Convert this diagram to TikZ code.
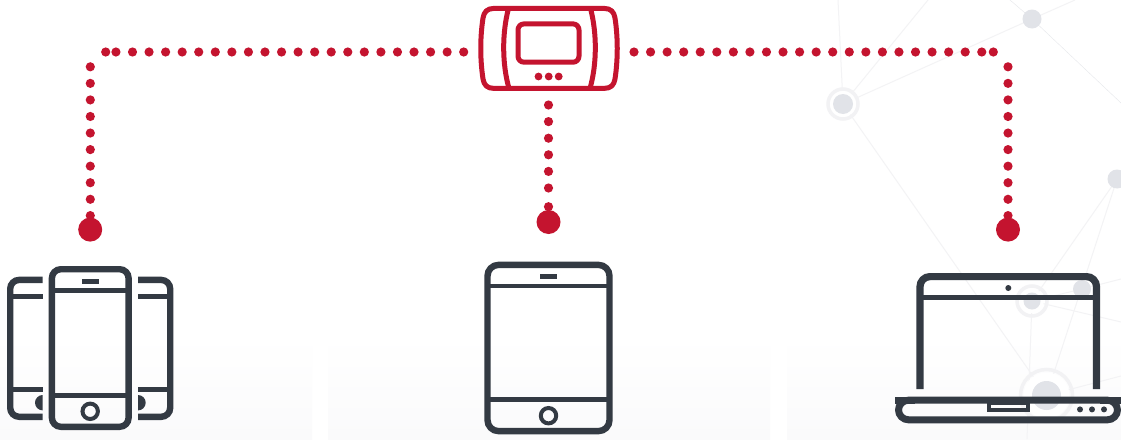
\documentclass[tikz,border=0pt]{standalone}
\definecolor{brandred}{HTML}{C4142F}
\definecolor{icondark}{HTML}{333A43}
\definecolor{netfill}{HTML}{E1E3E8}
\definecolor{netring}{HTML}{F2F2F4}
\definecolor{netline}{HTML}{F3F3F5}
\definecolor{netlinedark}{HTML}{E6E7EB}
\definecolor{floorgrey}{HTML}{FAFAFB}
\tikzset{
  dotline/.style={draw=brandred,line width=9.2pt,line cap=round,dash pattern=on 0pt off #1},
  reddot/.style={circle,fill=brandred,inner sep=0pt,minimum size=9.2pt},
  hubdot/.style={circle,fill=brandred,inner sep=0pt,minimum size=7.8pt},
  endpoint/.style={circle,fill=brandred,inner sep=0pt,minimum size=24pt},
  hubline/.style={draw=brandred,line width=5pt,line join=round},
  netnode/.style={circle,fill=netfill,inner sep=0pt,minimum size=#1},
  netcircle/.style={draw=netring,line width=3.5pt},
  netedge/.style={draw=netline,line width=1pt},
  icon/.style={draw=icondark,line width=6.4pt},
  iconthin/.style={draw=icondark,line width=4.6pt},
  iconfill/.style={fill=icondark},
  floor/.style={bottom color=floorgrey,top color=white,draw=none}
}
\begin{document}
\begin{tikzpicture}[x=1pt,y=-1pt]
\useasboundingbox (0,0) rectangle (1121,439);
\fill[white] (0,0) rectangle (1121,439);
% floor panels
\shade[floor] (0,335) rectangle (312,439);
\shade[floor] (328,335) rectangle (770,439);
\shade[floor] (787,335) rectangle (1121,439);
% network background
\coordinate (n1) at (1032,19);
\coordinate (n2) at (843,104);
\coordinate (n3) at (1117,179);
\coordinate (n4) at (1032,301);
\coordinate (n5) at (1082,289);
\coordinate (n6) at (1046.5,395.5);
\coordinate (e1) at (1010,0);
\coordinate (e2) at (1121,103);
\coordinate (e3) at (1075,0);
\coordinate (e4) at (838,0);
\coordinate (e5) at (928,0);
\coordinate (e6) at (1121,322);
\coordinate (e7) at (1121,279);
\coordinate (e8) at (1121,376);
\coordinate (e9) at (1027,439);
\draw[netlinedark] (e1) -- (n1) -- (e2);
\draw[netedge] (n1) -- (e3);
\draw[netedge] (n1) -- (n2);
\draw[netedge] (n2) -- (e4);
\draw[netedge] (n2) -- (e5);
\draw[netedge] (n2) -- (n6);
\draw[netedge] (n3) -- (n4);
\draw[netedge] (n3) -- (n6);
\draw[netedge] (n4) -- (e9);
\draw[netedge] (n4) -- (e6);
\draw[netedge] (n4) -- (n5);
\draw[netedge] (n5) -- (e7);
\draw[netedge] (n6) -- (e8);
\fill[white] (n2) circle (13);
\fill[white] (n4) circle (12);
\fill[white] (n6) circle (23);
\draw[netcircle] (n2) circle (15);
\draw[netcircle] (n4) circle (15);
\draw[netcircle] (n6) circle (26);
\node[netnode=19pt] (netA) at (n1) {};
\node[netnode=20pt] (netB) at (n2) {};
\node[netnode=19pt] (netC) at (n3) {};
\node[netnode=17pt] (netD) at (n4) {};
\node[netnode=18pt] (netE) at (n5) {};
\node[netnode=29pt] (netF) at (n6) {};
% hub device
\draw[hubline] (494,8.4) -- (604,8.4)
  .. controls (611,8.4) and (614,12) .. (615,18)
  .. controls (618,38) and (618,59) .. (615,79)
  .. controls (614,85) and (611,88.4) .. (604,88.4)
  -- (494,88.4)
  .. controls (487,88.4) and (484,85) .. (483,79)
  .. controls (480,59) and (480,38) .. (483,18)
  .. controls (484,12) and (487,8.4) .. (494,8.4) -- cycle;
\draw[hubline] (508.5,8.4) .. controls (502,33) and (502,64) .. (509,88.4);
\draw[hubline] (590.5,8.4) .. controls (597,33) and (597,64) .. (590,88.4);
\draw[hubline,rounded corners=6pt] (518,23.9) rectangle (579,62.2);
\node[hubdot] (hubA) at (538.5,76.5) {};
\node[hubdot] (hubB) at (548.7,76.5) {};
\node[hubdot] (hubC) at (558.7,76.5) {};
% connectors
\coordinate (hubW) at (463.7,52);
\coordinate (hubE) at (634,52);
\coordinate (hubS) at (548.5,105);
\coordinate (topL) at (115.9,52);
\coordinate (topR) at (982.2,52);
\coordinate (sideLa) at (90.3,66.8);
\coordinate (sideRa) at (1008,66.8);
\node[endpoint] (endL) at (90.2,229.6) {};
\node[endpoint] (endM) at (548.5,222) {};
\node[endpoint] (endR) at (1008,229.6) {};
\node[reddot] (capLa) at (105.7,52) {};
\node[reddot] (capRa) at (993.3,52) {};
\node[reddot] (capLb) at (90.3,215.6) {};
\node[reddot] (capRb) at (1008,215.6) {};
\node[reddot] (capMb) at (548.5,206.7) {};
\draw[dotline=16.56pt] (hubW) -- ([xshift=-.2pt]topL);
\draw[dotline=16.56pt] (hubE) -- ([xshift=.2pt]topR);
\draw[dotline=16.56pt] (sideLa) -- (capLb);
\draw[dotline=16.56pt] (sideRa) -- (capRb);
\draw[dotline=16.6pt] (hubS) -- (capMb);
% phones
\draw[icon,rounded corners=9pt] (51.9,269.2) rectangle (128.6,426.8);
\draw[iconthin] (51.9,290.3) -- (128.6,290.3);
\draw[iconthin] (51.9,395.7) -- (128.6,395.7);
\fill[iconfill] (82,279) rectangle (99,284);
\draw[iconthin,line width=4pt] (90.2,411.3) circle (7.7);
\draw[icon,rounded corners=9pt] (42.7,279.9) -- (10.2,279.9) -- (10.2,416.8) -- (42.7,416.8);
\draw[iconthin] (10.2,296.3) -- (42.7,296.3);
\draw[iconthin] (10.2,389.3) -- (42.7,389.3);
\fill[iconfill] (42.7,410.4) arc[start angle=90,end angle=270,radius=7.7] -- cycle;
\draw[icon,rounded corners=9pt] (138,279.9) -- (170.2,279.9) -- (170.2,416.8) -- (138,416.8);
\draw[iconthin] (138,296.3) -- (170.2,296.3);
\draw[iconthin] (138,389.3) -- (170.2,389.3);
\fill[iconfill] (138,410.4) arc[start angle=90,end angle=-90,radius=7.7] -- cycle;
% tablet
\draw[icon,rounded corners=11pt] (487.5,264.9) rectangle (609.5,431.1);
\draw[iconthin] (487.5,286) -- (609.5,286);
\draw[iconthin] (487.5,399.3) -- (609.5,399.3);
\fill[iconfill] (540,274) rectangle (557,279);
\draw[iconthin,line width=4pt] (548.5,415.7) circle (7.7);
% laptop
\draw[icon,line width=7.2pt,rounded corners=10pt] (920,389) -- (920,276.6) -- (1096.5,276.6) -- (1096.5,389);
\draw[iconthin,line width=5pt] (920,297.7) -- (1096.5,297.7);
\fill[iconfill] (1008.3,288) circle (3);
\draw[icon,line width=7pt,rounded corners=10pt] (1117.5,400.2) -- (1117.5,419.8) -- (898.5,419.8) -- (898.5,400.2) -- cycle;
\fill[iconfill] (895,396.7) rectangle (915,403.7);
\fill[iconfill] (1100,396.7) rectangle (1121,403.7);
\draw[icondark,line width=4pt] (988.7,403) rectangle (1028,409.7);
\fill[iconfill] (1080,409.4) circle (3);
\fill[iconfill] (1092,409.4) circle (3);
\fill[iconfill] (1104,409.4) circle (3);
\end{tikzpicture}
\end{document}
